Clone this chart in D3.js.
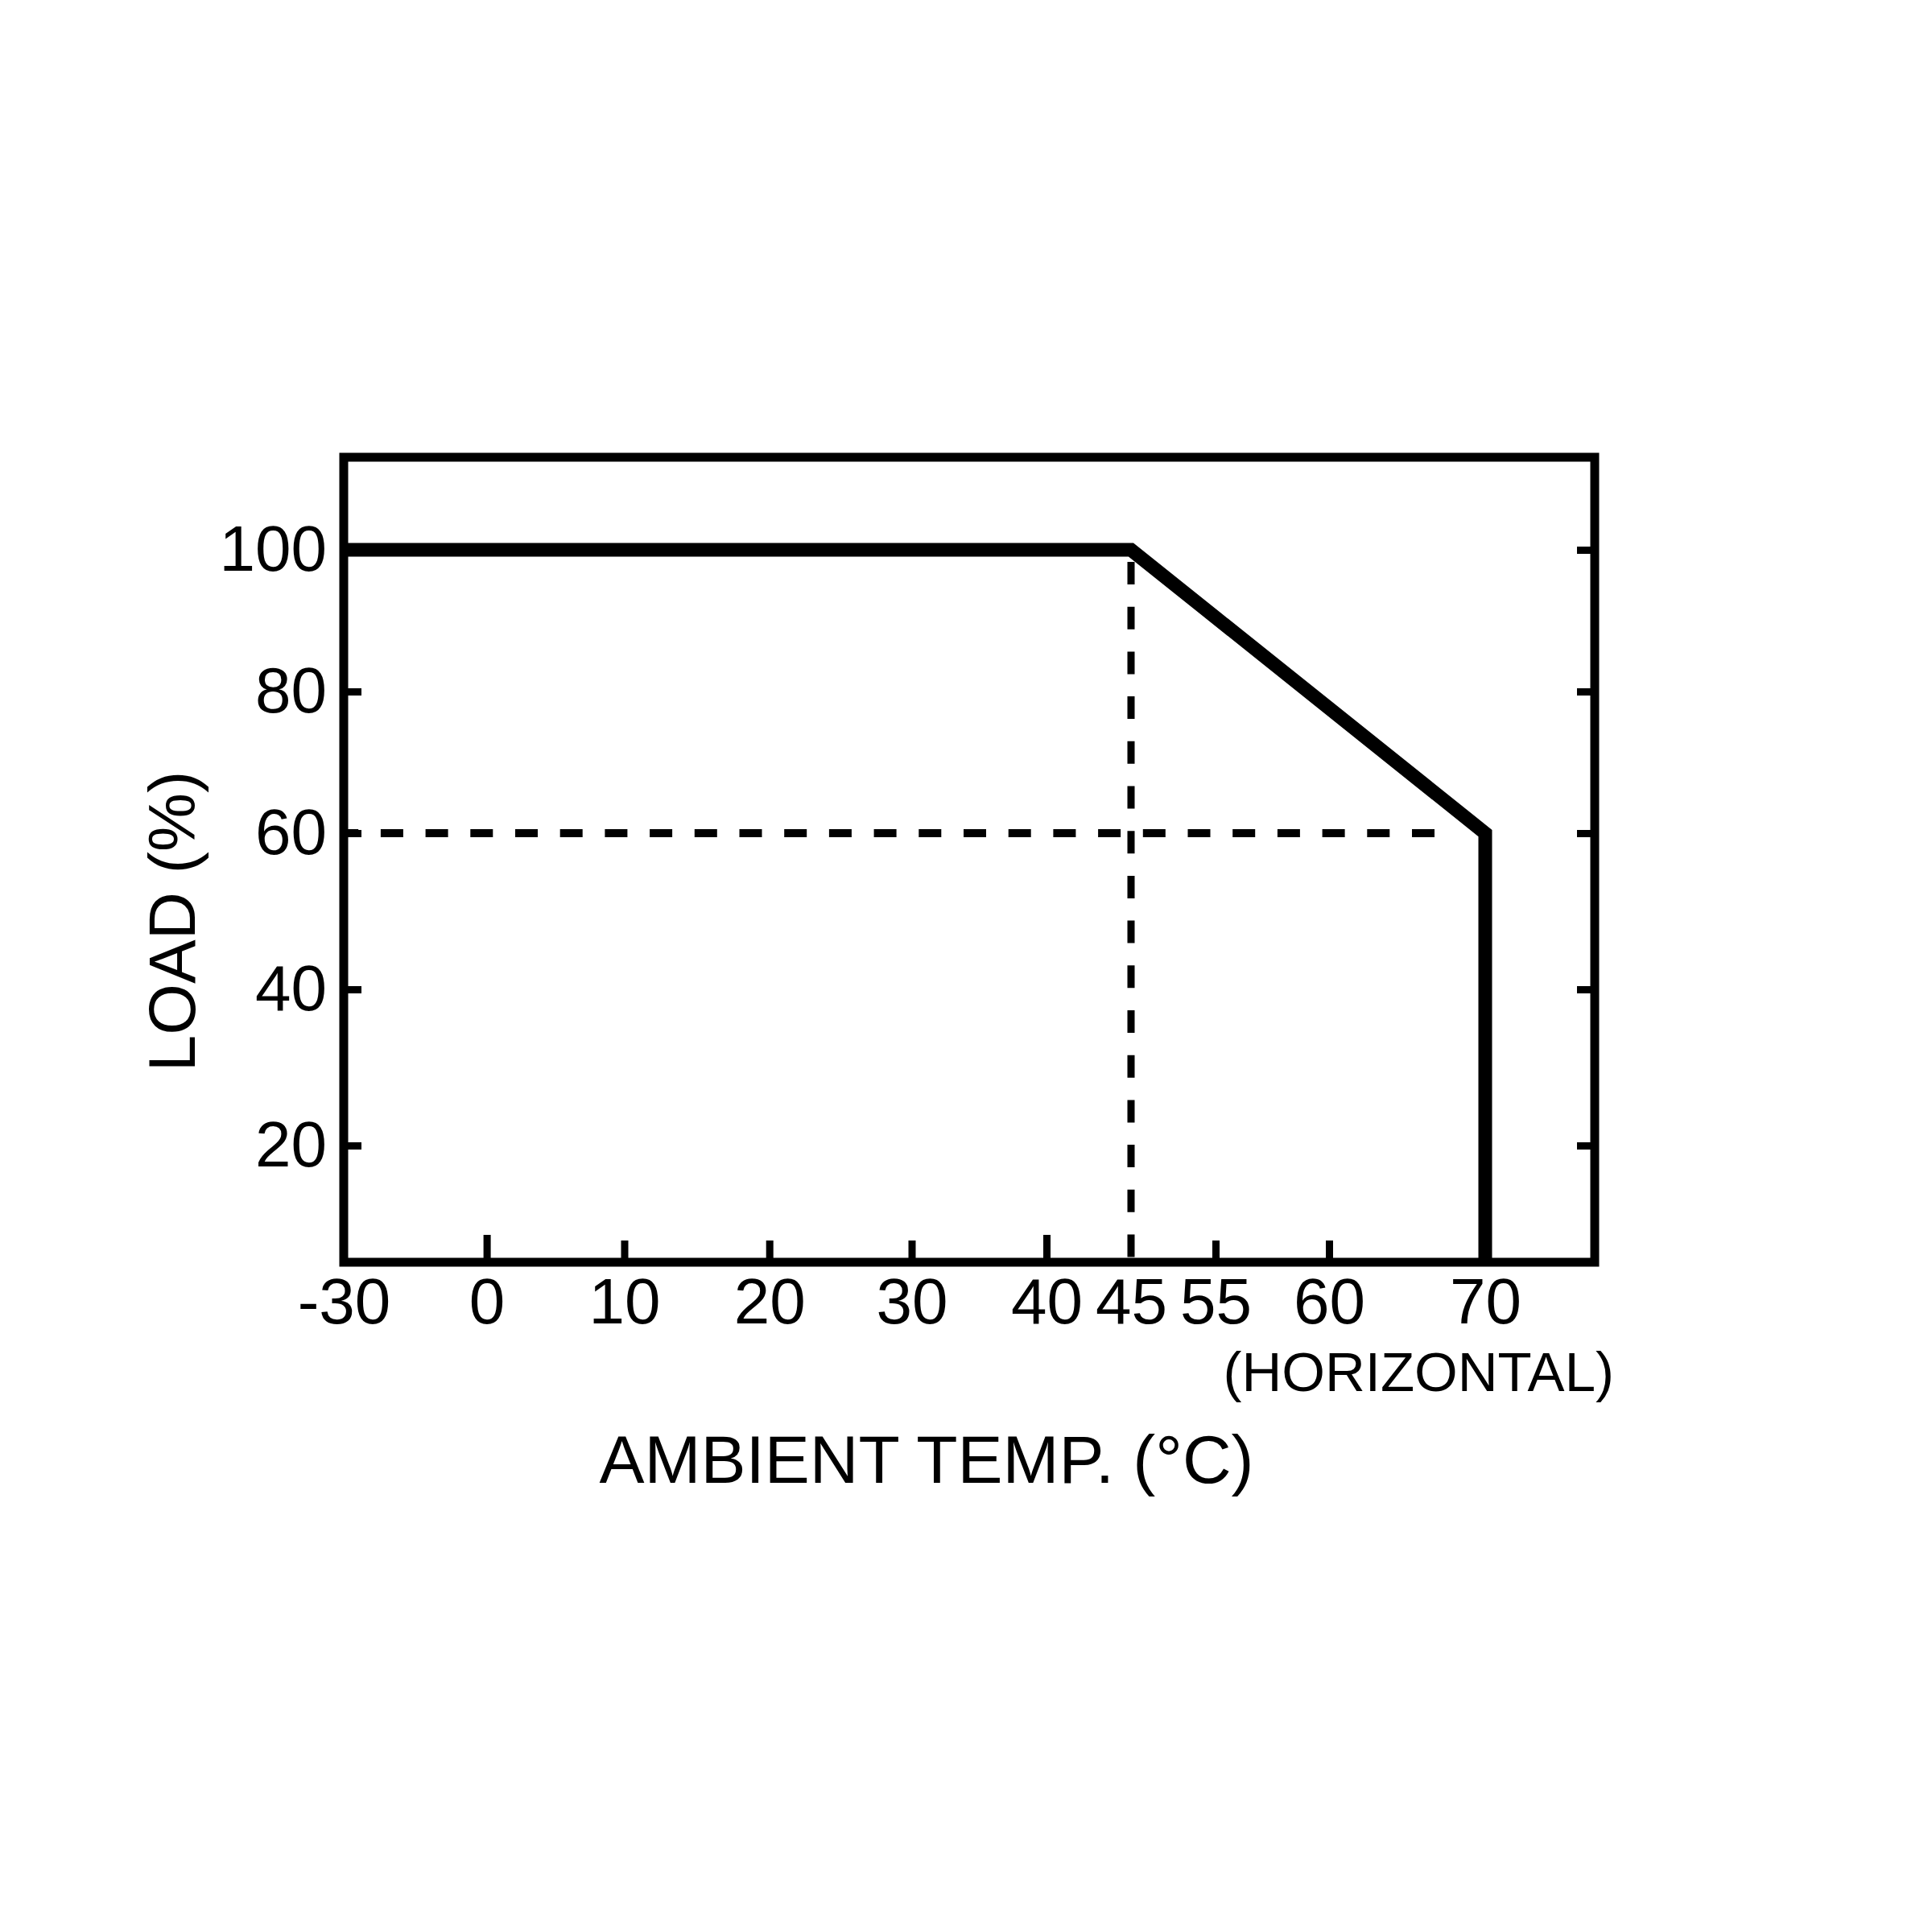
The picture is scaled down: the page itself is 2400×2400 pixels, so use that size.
<!DOCTYPE html>
<html><head><meta charset="utf-8">
<script src="https://cdn.jsdelivr.net/npm/d3@7"></script>
<style>html,body{margin:0;padding:0;background:#fff;}</style>
</head><body>
<svg id="chart" width="2400" height="2400"></svg>
<script>
// ---- data ----
const tempTicks = [-30, 0, 10, 20, 30, 40, 45, 55, 60, 70];
const loadTicks = [20, 40, 60, 80, 100];
const curveTemp = [-30, 45, 70, 70];
const curveLoad = [100, 100, 60, 0];
const refTemp = 45;
const refLoad = 60;
const xTitle = "AMBIENT TEMP. (°C)";
const xNote = "(HORIZONTAL)";
const yTitle = "LOAD (%)";

// ---- layout (non-uniform printed axes) ----
const frame = {left: 427, right: 1981, top: 568, bottom: 1568};
const tempTickPos = [427, 604.6, 775.5, 955.7, 1132.5, 1300, 1405, 1510, 1651, 1845];
const loadBreaks = [20, 60, 100];
const loadBreakPos = [1423, 1035, 683];
const longTicks = [0, 40];
const font = "'Liberation Sans', Arial, Helvetica, sans-serif";

const svg = d3.select("#chart");
svg.append("rect").attr("width", 2400).attr("height", 2400).attr("fill", "#fff");

const x = d3.scaleLinear().domain(tempTicks).range(tempTickPos);
const y = d3.scaleLinear().domain(loadBreaks).range(loadBreakPos);

svg.append("defs").append("clipPath").attr("id", "plotclip")
  .append("rect")
  .attr("x", frame.left).attr("y", frame.top)
  .attr("width", frame.right - frame.left).attr("height", frame.bottom - frame.top);

const plot = svg.append("g").attr("clip-path", "url(#plotclip)");

// dashed reference lines
const period = 55.7;
plot.append("line")
  .attr("x1", x(refTemp)).attr("x2", x(refTemp))
  .attr("y1", y(100)).attr("y2", frame.bottom)
  .attr("stroke", "#000").attr("stroke-width", 9)
  .attr("stroke-dasharray", "28,27.7")
  .attr("stroke-dashoffset", period - 15);
plot.append("line")
  .attr("x1", x(tempTicks[0])).attr("x2", x(70) - period)
  .attr("y1", y(refLoad)).attr("y2", y(refLoad))
  .attr("stroke", "#000").attr("stroke-width", 10)
  .attr("stroke-dasharray", "28,27.7")
  .attr("stroke-dashoffset", 9.8);

// derating curve
const pts = curveTemp.map((t, i) => [t, curveLoad[i]]);
plot.append("path")
  .attr("d", d3.line().x(d => x(d[0])).y(d => y(d[1]))(pts))
  .attr("fill", "none").attr("stroke", "#000")
  .attr("stroke-width", 17).attr("stroke-linejoin", "miter");

// axes
const ax = svg.append("g").attr("transform", `translate(0,${frame.bottom})`)
  .call(d3.axisBottom(x).tickValues(tempTicks).tickFormat(d => String(d))
    .tickSize(-27).tickPadding(19));
ax.select(".domain").remove();
ax.selectAll(".tick line").attr("stroke", "#000").attr("stroke-width", 9)
  .attr("y2", d => longTicks.includes(d) ? -34 : -27);
ax.selectAll(".tick text").attr("fill", "#000")
  .style("font-family", font).style("font-size", "80px");
ax.selectAll(".tick").filter(d => d === refTemp || d === tempTicks[0]).select("line").remove();

const ayL = svg.append("g").attr("transform", `translate(${frame.left},0)`)
  .call(d3.axisLeft(y).tickValues(loadTicks).tickFormat(d => String(d))
    .tickSize(-22).tickPadding(21));
ayL.select(".domain").remove();
ayL.selectAll(".tick line").attr("stroke", "#000").attr("stroke-width", 9);
ayL.selectAll(".tick text").attr("fill", "#000")
  .style("font-family", font).style("font-size", "80px");

const ayR = svg.append("g").attr("transform", `translate(${frame.right},0)`)
  .call(d3.axisRight(y).tickValues(loadTicks).tickFormat("").tickSize(-22));
ayR.select(".domain").remove();
ayR.selectAll(".tick line").attr("stroke", "#000").attr("stroke-width", 9);

// frame
svg.append("rect")
  .attr("x", frame.left).attr("y", frame.top)
  .attr("width", frame.right - frame.left).attr("height", frame.bottom - frame.top)
  .attr("fill", "none").attr("stroke", "#000").attr("stroke-width", 11);

// titles
svg.append("text").attr("x", 2005).attr("y", 1728)
  .attr("text-anchor", "end").style("font-family", font).style("font-size", "69px")
  .text(xNote);
svg.append("text").attr("x", 1151).attr("y", 1842)
  .attr("text-anchor", "middle").style("font-family", font).style("font-size", "84px")
  .text(xTitle);
svg.append("text").attr("transform", "translate(242,1144.5) rotate(-90)")
  .attr("text-anchor", "middle").style("font-family", font).style("font-size", "82px")
  .text(yTitle);
</script>
</body></html>
